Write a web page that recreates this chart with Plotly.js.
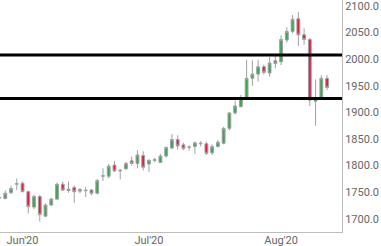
<!DOCTYPE html>
<html>
<head>
<meta charset="utf-8">
<script src="https://cdn.plot.ly/plotly-3.0.1.min.js"></script>
<style>html,body{margin:0;padding:0;background:#fff;}#chart{width:381px;height:246px;}</style>
</head>
<body>
<div id="chart"></div>
<script>
// Trading days (weekdays), 2020-05-26 .. 2020-08-13
const dates = [
 '2020-05-26','2020-05-27','2020-05-28','2020-05-29',
 '2020-06-01','2020-06-02','2020-06-03','2020-06-04','2020-06-05',
 '2020-06-08','2020-06-09','2020-06-10','2020-06-11','2020-06-12',
 '2020-06-15','2020-06-16','2020-06-17','2020-06-18','2020-06-19',
 '2020-06-22','2020-06-23','2020-06-24','2020-06-25','2020-06-26',
 '2020-06-29','2020-06-30',
 '2020-07-01','2020-07-02','2020-07-03',
 '2020-07-06','2020-07-07','2020-07-08','2020-07-09','2020-07-10',
 '2020-07-13','2020-07-14','2020-07-15','2020-07-16','2020-07-17',
 '2020-07-20','2020-07-21','2020-07-22','2020-07-23','2020-07-24',
 '2020-07-27','2020-07-28','2020-07-29','2020-07-30','2020-07-31',
 '2020-08-03','2020-08-04','2020-08-05','2020-08-06','2020-08-07',
 '2020-08-10','2020-08-11','2020-08-12','2020-08-13'
];
const open  = [1739,1738,1749,1765,1767,1751,1722,1742,1705,1726,1737,1765,1753,1759,1752,1754,1754,1748,1780,1780,1801,1790,1794,1809,1804,1819,1803,1810,1806,1818,1833,1849,1839,1834,1836,1841,1841,1824,1836,1842,1870,1899,1911,1927,1964,1972,1986,1974,1997,1995,2036,2052,2076,2046,2037,1921,1927,1964];
const high  = [1744,1753,1762,1776,1770,1753,1745,1745,1729,1740,1768,1770,1770,1763,1758,1760,1756,1775,1795,1803,1809,1794,1807,1817,1829,1827,1812,1815,1822,1836,1859,1857,1843,1838,1845,1846,1845,1840,1848,1873,1901,1922,1933,1999,1998,1999,1990,2004,2008,2045,2060,2083,2089,2058,2040,1962,1970,1970];
const low   = [1735,1737,1747,1754,1750,1710,1718,1695,1703,1724,1735,1752,1749,1730,1748,1741,1744,1746,1771,1776,1788,1774,1792,1800,1795,1791,1788,1806,1805,1815,1831,1830,1829,1828,1822,1836,1820,1820,1834,1840,1866,1896,1909,1925,1950,1958,1971,1967,1983,1989,2031,2049,2025,2027,1912,1875,1924,1942];
const close = [1740,1748,1757,1766,1751,1723,1742,1708,1726,1737,1765,1754,1756,1751,1755,1753,1748,1772,1781,1799,1790,1791,1804,1804,1820,1797,1810,1811,1818,1834,1849,1837,1832,1835,1843,1842,1823,1836,1844,1870,1899,1912,1927,1964,1972,1986,1975,1993,1992,2037,2052,2075,2046,2037,1923,1926,1964,1947];
const levels = [2008, 1926];
const tickDates = ['2020-06-01','2020-07-01','2020-08-03'];
const tickLabels = ["Jun'20","Jul'20","Aug'20"];
const yTicks = [1700,1750,1800,1850,1900,1950,2000,2050,2100];

const GREEN = '#38a853', RED = '#e8193f', WICK = '#a0a0a0';

const trace = {
  type: 'candlestick',
  x: dates, open: open, high: high, low: low, close: close,
  increasing: {line: {color: WICK, width: 1}, fillcolor: GREEN},
  decreasing: {line: {color: WICK, width: 1}, fillcolor: RED},
  whiskerwidth: 0,
  hoverinfo: 'none'
};

const layout = {
  width: 381, height: 246,
  margin: {l: 0, r: 39, t: 0, b: 14, pad: 0},
  paper_bgcolor: '#fff', plot_bgcolor: '#fff',
  showlegend: false,
  font: {family: 'Roboto, Arial, sans-serif', size: 11, color: '#666'},
  xaxis: {
    type: 'category', range: [0.08, 59.6],
    rangeslider: {visible: false},
    tickmode: 'array', tickvals: tickDates, ticktext: tickLabels,
    showgrid: false, zeroline: false,
    showline: true, linecolor: '#bdbdbd', linewidth: 1,
    ticks: '', ticklen: 0, ticklabelstandoff: -2, ticklabeloverflow: 'allow',
    tickfont: {size: 11, color: '#666'}
  },
  yaxis: {
    side: 'right', range: [1675.2, 2111.3],
    tickmode: 'array', tickvals: yTicks, tickformat: '.1f',
    showgrid: false, zeroline: false,
    showline: true, linecolor: '#bdbdbd', linewidth: 1,
    ticks: '', ticklen: 0, ticklabeloverflow: 'allow',
    tickfont: {size: 11, color: '#666'}
  },
  shapes: levels.map(v => ({
    type: 'line', xref: 'paper', yref: 'y', x0: 0, x1: 1, y0: v, y1: v,
    line: {color: '#000', width: 3}, layer: 'above'
  }))
};

Plotly.newPlot('chart', [trace], layout, {staticPlot: true, displayModeBar: false});
</script>
</body>
</html>
